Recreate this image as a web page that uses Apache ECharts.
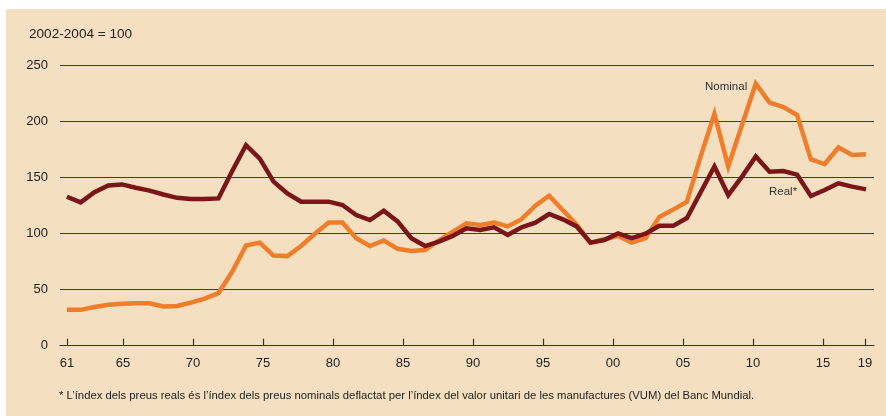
<!DOCTYPE html>
<html>
<head>
<meta charset="utf-8">
<script src="https://cdn.jsdelivr.net/npm/echarts@6/dist/echarts.min.js"></script>
<style>
html,body{margin:0;padding:0;background:#ffffff;}
#chart{width:886px;height:416px;}
</style>
</head>
<body>
<div id="chart"></div>
<script>
// ---- data ----
const firstYear = 1961;
const lastYear = 2019;
const years = [];
for (let y = firstYear; y <= lastYear; y++) years.push(y);

const nominal = [
  32, 32, 34.5, 36.5, 37.5, 37.8, 37.8, 35, 35.5, 38.5,
  42, 47, 66, 89.5, 92, 80.5, 80, 89, 100, 110,
  110, 96, 89, 94, 86.5, 84.5, 85.5, 94, 101.5, 109.3,
  107.8, 110, 106.5, 113, 125, 134, 121, 108, 92, 95,
  98, 92, 96, 115, 121.5, 128.5, 169, 207, 160, 197,
  234, 217, 213, 206, 166.4, 162.2, 177, 170.3, 171
];
const real = [
  133, 128, 137, 143, 144, 141, 138.5, 135, 132, 131,
  131, 131.5, 156, 179, 167, 146.5, 136, 128.6, 128.6, 128.6,
  125.6, 116.7, 112.2, 120.5, 111, 96, 89, 93, 98, 104.8,
  103.3, 105.7, 98.8, 105.7, 109.8, 117.6, 112.8, 106.5, 92, 94.4,
  100.3, 96, 100, 107, 107, 114, 137, 160, 134.5, 151,
  169, 155.4, 156, 152.7, 133.7, 139, 145, 142, 139.6
];
// tick axis of the reference (evenly spaced 61..15 with the last tick labelled 19)
const tickValues = [1961, 1965, 1970, 1975, 1980, 1985, 1990, 1995, 2000, 2005, 2010, 2015, 2018];
const tickLabels = ['61', '65', '70', '75', '80', '85', '90', '95', '00', '05', '10', '15', '19'];
const yTicks = [0, 50, 100, 150, 200, 250];

const unitText = '2002-2004 = 100';
const footnote = '* L\u2019índex dels preus reals és l\u2019índex dels preus nominals deflactat per l\u2019índex del valor unitari de les manufactures (VUM) del Banc Mundial.';

const nominalPairs = years.map((y, i) => [y, nominal[i]]);
const realPairs = years.map((y, i) => [y, real[i]]);

const FONT = '"Liberation Sans", Arial, sans-serif';
const chart = echarts.init(document.getElementById('chart'), null, {renderer: 'canvas'});

chart.setOption({
  backgroundColor: '#ffffff',
  animation: false,
  grid: {left: 60, right: 12, top: 65.7, bottom: 70.3, containLabel: false},
  graphic: [
    {type: 'rect', left: 6, top: 9, shape: {width: 880, height: 407}, style: {fill: '#f5dfc1'}, z: -10, silent: true},
    {type: 'text', left: 29, top: 27, style: {text: unitText, font: '13.6px ' + FONT, fill: '#222'}},
    {type: 'text', left: 705, top: 81, style: {text: 'Nominal', font: '11.5px ' + FONT, fill: '#333'}},
    {type: 'text', left: 769, top: 186, style: {text: 'Real*', font: '11.5px ' + FONT, fill: '#333'}},
    {type: 'text', left: 59, top: 390, style: {text: footnote, font: '11.3px ' + FONT, fill: '#222'}}
  ],
  xAxis: [
    {
      type: 'value', min: 1960.5, max: 2019.58, show: false
    },
    {
      type: 'value', min: 1960.5, max: 2018.64, position: 'bottom',
      axisLine: {show: true, onZero: false, lineStyle: {color: '#333', width: 1.2}},
      axisTick: {show: true, inside: true, length: 7, customValues: tickValues, lineStyle: {color: '#333', width: 1.2}},
      axisLabel: {
        show: true, margin: 11, customValues: tickValues,
        fontFamily: FONT, fontSize: 13, color: '#222',
        formatter: v => tickLabels[tickValues.indexOf(v)]
      },
      splitLine: {show: false}
    }
  ],
  yAxis: {
    type: 'value', min: 0, max: 250, interval: 50,
    axisLine: {show: false}, axisTick: {show: false},
    axisLabel: {fontFamily: FONT, fontSize: 13, color: '#222', margin: 12,
      formatter: v => yTicks.indexOf(v) >= 0 ? String(v) : ''},
    splitLine: {show: true, lineStyle: {color: '#3c3c3c', width: 1.2}}
  },
  series: [
    {
      name: 'Nominal', type: 'line', xAxisIndex: 0, data: nominalPairs,
      symbol: 'none', lineStyle: {color: '#ef7d2a', width: 4.5, join: 'miter'}, z: 3
    },
    {
      name: 'Real*', type: 'line', xAxisIndex: 0, data: realPairs,
      symbol: 'none', lineStyle: {color: '#7b1518', width: 4.5, join: 'miter'}, z: 4
    }
  ]
});
</script>
</body>
</html>
